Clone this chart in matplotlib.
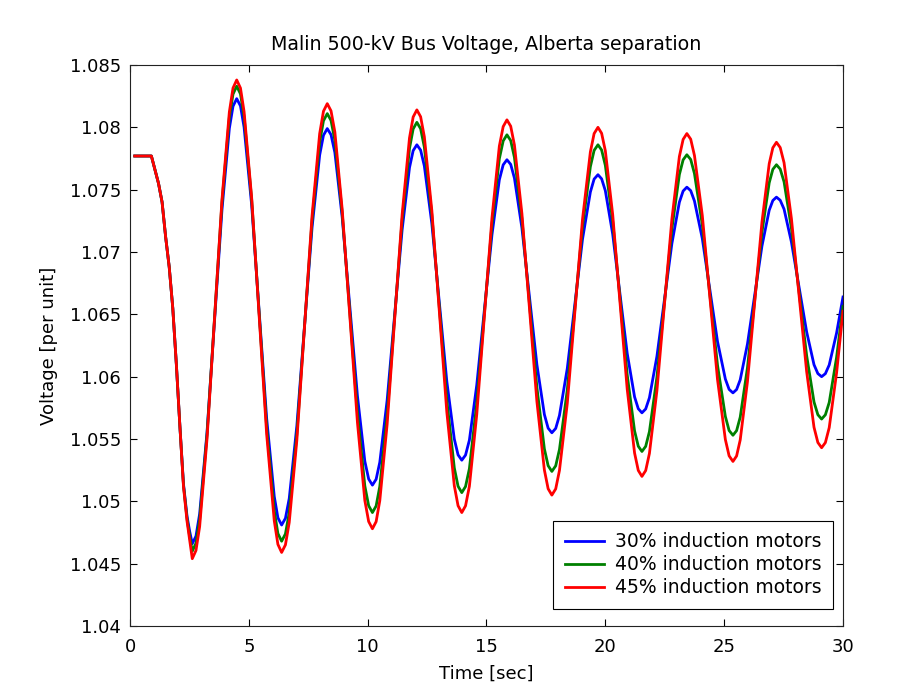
import matplotlib
matplotlib.use("Agg")
import matplotlib.pyplot as plt

plt.rcParams['font.family'] = ['DejaVu Sans']

time_s = [0.2, 0.9, 1.05, 1.2, 1.35, 1.5, 1.65, 1.8, 1.95, 2.1, 2.25, 2.4, 2.51,
          2.62, 2.776, 2.93, 3.24, 3.555, 3.87, 4.18, 4.334,
          4.49, 4.648, 4.80, 5.12, 5.435, 5.75, 6.07, 6.223,
          6.38, 6.54, 6.70, 7.02, 7.34, 7.66, 7.98, 8.14,
          8.30, 8.458, 8.62, 8.93, 9.25, 9.57, 9.88, 10.042,
          10.20, 10.356, 10.51, 10.82, 11.135, 11.45, 11.76, 11.914,
          12.07, 12.228, 12.385, 12.70, 13.015, 13.33, 13.645, 13.803,
          13.96, 14.118, 14.28, 14.59, 14.91, 15.23, 15.54, 15.702,
          15.86, 16.018, 16.175, 16.49, 16.805, 17.12, 17.435, 17.593,
          17.75, 17.912, 18.07, 18.40, 18.72, 19.04, 19.37, 19.528,
          19.69, 19.844, 20.00, 20.31, 20.615, 20.92, 21.23, 21.386,
          21.54, 21.698, 21.855, 22.17, 22.485, 22.80, 23.115, 23.273,
          23.43, 23.592, 23.75, 24.08, 24.40, 24.72, 25.05, 25.208,
          25.37, 25.523, 25.675, 25.98, 26.285, 26.59, 26.895, 27.048,
          27.20, 27.358, 27.52, 27.83, 28.15, 28.47, 28.78, 28.942,
          29.10, 29.258, 29.42, 29.73, 30.0]

v30 = [1.0777, 1.0777, 1.0766, 1.0755, 1.0740, 1.0712, 1.0688, 1.0655, 1.0610, 1.0560, 1.0514, 1.0488, 1.0476,
       1.0466, 1.04721, 1.04899, 1.05552, 1.06445, 1.07338, 1.07991, 1.08169,
       1.0823, 1.08172, 1.08001, 1.07375, 1.0652, 1.05665, 1.05039, 1.04868,
       1.0481, 1.04864, 1.05023, 1.05605, 1.0640, 1.07195, 1.07777, 1.07936,
       1.0799, 1.07941, 1.07798, 1.07275, 1.0656, 1.05845, 1.05322, 1.05179,
       1.0513, 1.05177, 1.05313, 1.05812, 1.06495, 1.07178, 1.07677, 1.07813,
       1.0786, 1.07817, 1.0769, 1.07228, 1.06595, 1.05962, 1.0550, 1.05373,
       1.0533, 1.05371, 1.05491, 1.05932, 1.06535, 1.07138, 1.07579, 1.07699,
       1.0774, 1.07703, 1.07593, 1.07193, 1.06645, 1.06097, 1.05697, 1.05587,
       1.0555, 1.05585, 1.05689, 1.06067, 1.06585, 1.07103, 1.07481, 1.07585,
       1.0762, 1.07587, 1.07492, 1.07143, 1.06665, 1.06187, 1.05838, 1.05743,
       1.0571, 1.05741, 1.05831, 1.06162, 1.06615, 1.07068, 1.07399, 1.07489,
       1.0752, 1.07492, 1.07409, 1.07108, 1.06695, 1.06282, 1.05981, 1.05898,
       1.0587, 1.05897, 1.05975, 1.06262, 1.06655, 1.07048, 1.07335, 1.07413,
       1.0744, 1.07415, 1.07344, 1.0708, 1.0672, 1.0636, 1.06096, 1.06025,
       1.0600, 1.06024, 1.06094, 1.0635, 1.06639]

v40 = [1.0777, 1.0777, 1.0766, 1.0755, 1.0740, 1.0712, 1.0688, 1.0655, 1.0610, 1.0560, 1.0513, 1.0486, 1.0472,
       1.0460, 1.04664, 1.0485, 1.05532, 1.06465, 1.07398, 1.0808, 1.08266,
       1.0833, 1.08268, 1.08085, 1.07418, 1.06505, 1.05592, 1.04925, 1.04742,
       1.0468, 1.04739, 1.0491, 1.05537, 1.06395, 1.07253, 1.0788, 1.08052,
       1.0811, 1.08055, 1.07896, 1.0731, 1.0651, 1.0571, 1.05124, 1.04965,
       1.0491, 1.04963, 1.0512, 1.05692, 1.06475, 1.07258, 1.0783, 1.07987,
       1.0804, 1.07989, 1.07841, 1.07298, 1.06555, 1.05812, 1.05269, 1.05121,
       1.0507, 1.05119, 1.05262, 1.05787, 1.06505, 1.07223, 1.07748, 1.07891,
       1.0794, 1.07894, 1.07759, 1.07265, 1.0659, 1.05915, 1.05421, 1.05286,
       1.0524, 1.05285, 1.05416, 1.05895, 1.0655, 1.07205, 1.07684, 1.07815,
       1.0786, 1.07818, 1.07695, 1.07245, 1.0663, 1.06015, 1.05565, 1.05442,
       1.0540, 1.05441, 1.05559, 1.05995, 1.0659, 1.07185, 1.07621, 1.07739,
       1.0778, 1.07742, 1.07629, 1.07218, 1.06655, 1.06092, 1.05681, 1.05568,
       1.0553, 1.05567, 1.05675, 1.06072, 1.06615, 1.07158, 1.07555, 1.07663,
       1.0770, 1.07665, 1.07563, 1.0719, 1.0668, 1.0617, 1.05797, 1.05695,
       1.0566, 1.05694, 1.05793, 1.06155, 1.06564]

v45 = [1.0777, 1.0777, 1.0766, 1.0755, 1.0740, 1.0712, 1.0688, 1.0655, 1.0610, 1.0560, 1.0512, 1.0484, 1.0469,
       1.0454, 1.04606, 1.04797, 1.0550, 1.0646, 1.0742, 1.08123, 1.08315,
       1.0838, 1.08315, 1.08126, 1.07433, 1.06485, 1.05538, 1.04844, 1.04655,
       1.0459, 1.04651, 1.04831, 1.0549, 1.0639, 1.0729, 1.07949, 1.08129,
       1.0819, 1.08132, 1.07962, 1.07338, 1.06485, 1.05632, 1.05008, 1.04838,
       1.0478, 1.04837, 1.05005, 1.0562, 1.0646, 1.0730, 1.07915, 1.08083,
       1.0814, 1.08085, 1.07924, 1.07333, 1.06525, 1.05717, 1.05126, 1.04965,
       1.0491, 1.04964, 1.05121, 1.05697, 1.06485, 1.07273, 1.07849, 1.08006,
       1.0806, 1.08009, 1.07858, 1.07308, 1.06555, 1.05802, 1.05252, 1.05101,
       1.0505, 1.05100, 1.05248, 1.05787, 1.06525, 1.07263, 1.07802, 1.07950,
       1.0800, 1.07952, 1.07812, 1.0730, 1.0660, 1.0590, 1.05388, 1.05248,
       1.0520, 1.05247, 1.05384, 1.05887, 1.06575, 1.07263, 1.07766, 1.07903,
       1.0795, 1.07905, 1.07774, 1.07293, 1.06635, 1.05977, 1.05496, 1.05365,
       1.0532, 1.05364, 1.05492, 1.0596, 1.0660, 1.0724, 1.07708, 1.07836,
       1.0788, 1.07838, 1.07716, 1.07268, 1.06655, 1.06042, 1.05594, 1.05472,
       1.0543, 1.05471, 1.05591, 1.0603, 1.06525]

series_labels = ['30% induction motors', '40% induction motors', '45% induction motors']
series_colors = ['#0000ff', '#008000', '#ff0000']
x_ticks = [0, 5, 10, 15, 20, 25, 30]
y_ticks = [1.04, 1.045, 1.05, 1.055, 1.06, 1.065, 1.07, 1.075, 1.08, 1.085]
y_tick_labels = ['1.04', '1.045', '1.05', '1.055', '1.06', '1.065', '1.07', '1.075', '1.08', '1.085']

FS = 13

fig = plt.figure(figsize=(9.17, 6.98), dpi=100)
ax = fig.add_axes([130/917, 1-626/698, (843-130)/917, (626-65)/698])

for vals, lab, col in zip([v30, v40, v45], series_labels, series_colors):
    ax.plot(time_s, vals, color=col, lw=2.0, label=lab)

ax.set_xlim(0, 30)
ax.set_ylim(1.04, 1.085)
ax.set_xticks(x_ticks)
ax.set_yticks(y_ticks)
ax.set_yticklabels(y_tick_labels)
ax.tick_params(direction='in', top=True, right=True, length=5, width=0.8,
               labelsize=FS, colors='black')
ax.tick_params(axis='y', pad=6.5)
ax.tick_params(axis='x', pad=9)
for s in ax.spines.values():
    s.set_linewidth(0.8)
    s.set_color('#222222')

ax.set_title('Malin 500-kV Bus Voltage, Alberta separation', fontsize=13.7, pad=11)
ax.set_xlabel('Time [sec]', fontsize=FS, labelpad=6)
ax.set_ylabel('Voltage [per unit]', fontsize=FS, labelpad=8)

leg = ax.legend(loc='lower right', bbox_to_anchor=(0.986, 0.0303), borderaxespad=0,
                fontsize=13.5, frameon=True, fancybox=False,
                edgecolor='black', framealpha=1,
                handlelength=2.08, labelspacing=0.22, borderpad=0.62, handletextpad=0.59)
leg.get_frame().set_linewidth(0.8)

fig.savefig('out.png', dpi=100)
